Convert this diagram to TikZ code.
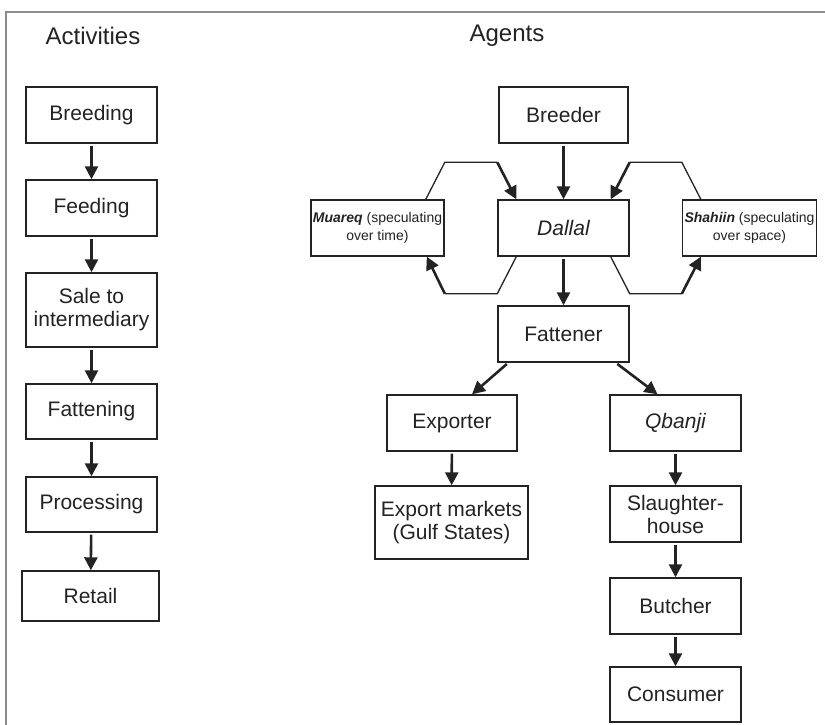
\documentclass[tikz,border=0pt]{standalone}
\usepackage{fontspec}
\setmainfont{Liberation Sans}
\usepackage{tikz}
\usetikzlibrary{arrows.meta, positioning}
\definecolor{inkGray}{RGB}{35,35,35}
\definecolor{frameGray}{RGB}{140,140,140}
\tikzset{
  vc/box/.style={rectangle, draw=inkGray, fill=white, line width=1.4pt,
    minimum width=131pt, minimum height=56pt, inner sep=2pt,
    font=\fontsize{21}{23}\selectfont\color{inkGray}, align=center},
  vc/small/.style={vc/box, font=\fontsize{14}{18}\selectfont\color{inkGray}},
  vc/head/.style={font=\fontsize{24}{26}\selectfont\color{inkGray}},
  vc/arr/.style={-{Triangle[length=13pt,width=13pt]}, line width=2.6pt,
    draw=inkGray, shorten <=2pt},
  vc/line/.style={line width=1.3pt, draw=inkGray}
}

\begin{document}
\begin{tikzpicture}[x=1pt, y=-1pt]
  \useasboundingbox (0,0) rectangle (825,725);
  % Marco
  \draw[frameGray, line width=1.6pt] (6,725) -- (6,12) -- (825,12);

  % Cabeceras
  \node[vc/head] at (93, 36)  (hAct) {Activities};
  \node[vc/head] at (507, 36) (hAg)  {Agents};

  % Columna de actividades
  \node[vc/box] at (91.5, 115)   (a1) {Breeding};
  \node[vc/box] at (91.5, 208)   (a2) {Feeding};
  \node[vc/box, minimum height=74pt] at (91.5, 310) (a3) {Sale to\\intermediary};
  \node[vc/box, minimum height=55pt] at (91.5, 411.5) (a4) {Fattening};
  \node[vc/box, minimum height=55pt] at (91.5, 504.5) (a5) {Processing};
  \node[vc/box, minimum width=137pt, minimum height=50pt] at (90.5, 596) (a6) {Retail};

  \draw[vc/arr] (a1) -- (a2);
  \draw[vc/arr] (a2) -- (a3);
  \draw[vc/arr] (a3) -- (a4);
  \draw[vc/arr] (a4) -- (a5);
  \draw[vc/arr] (a5) -- (a6);

  % Agentes
  \node[vc/box, minimum width=129pt] at (563.5, 115) (br) {Breeder};
  \node[vc/box] at (563.5, 228) (dl) {\itshape Dallal};
  \node[vc/small] at (377.5, 228) (mq) {\textbf{\textit{Muareq}} (speculating\\over time)};
  \node[vc/small] at (749.5, 228) (sh) {\textbf{\textit{Shahiin}} (speculating\\over space)};
  \node[vc/box] at (563.5, 334) (ft) {Fattener};
  \node[vc/box, minimum width=130pt] at (452, 423) (ex) {Exporter};
  \node[vc/box] at (675.5, 423) (qb) {\itshape Qbanji};
  \node[vc/box, minimum width=153pt, minimum height=73pt] at (451.5, 522.5) (em) {Export markets\\(Gulf States)};
  \node[vc/box] at (675.5, 514) (sl) {Slaughter-\\house};
  \node[vc/box] at (675.5, 606) (bu) {Butcher};
  \node[vc/box, minimum height=55pt] at (675.5, 694.5) (co) {Consumer};

  % Flujo principal
  \draw[vc/arr] (br) -- (dl);
  \draw[vc/arr] (dl) -- (ft);
  \draw[vc/arr] ([xshift=11]ft.south west) -- ([xshift=20]ex.north);
  \draw[vc/arr] ([xshift=-14]ft.south east) -- ([xshift=-18]qb.north);
  \draw[vc/arr] (ex) -- (em);
  \draw[vc/arr] (qb) -- (sl);
  \draw[vc/arr] (sl) -- (bu);
  \draw[vc/arr] (bu) -- (co);

  % Bucles de especulacion
  \draw[vc/line] ([xshift=-19]mq.north east) -- ([yshift=37]mq.north east)
        -- ([yshift=37]dl.north west);
  \draw[vc/arr, shorten <=0pt] ([yshift=37]dl.north west) -- ([xshift=19]dl.north west);
  \draw[vc/line] ([xshift=19]dl.south west) -- ([yshift=-37]dl.south west)
        -- ([yshift=-37]mq.south east);
  \draw[vc/arr, shorten <=0pt] ([yshift=-37]mq.south east) -- ([xshift=-18]mq.south east);

  \draw[vc/line] ([xshift=19]sh.north west) -- ([yshift=37]sh.north west)
        -- ([yshift=37]dl.north east);
  \draw[vc/arr, shorten <=0pt] ([yshift=37]dl.north east) -- ([xshift=-19]dl.north east);
  \draw[vc/line] ([xshift=-19]dl.south east) -- ([yshift=-37]dl.south east)
        -- ([yshift=-37]sh.south west);
  \draw[vc/arr, shorten <=0pt] ([yshift=-37]sh.south west) -- ([xshift=19]sh.south west);
\end{tikzpicture}
\end{document}
